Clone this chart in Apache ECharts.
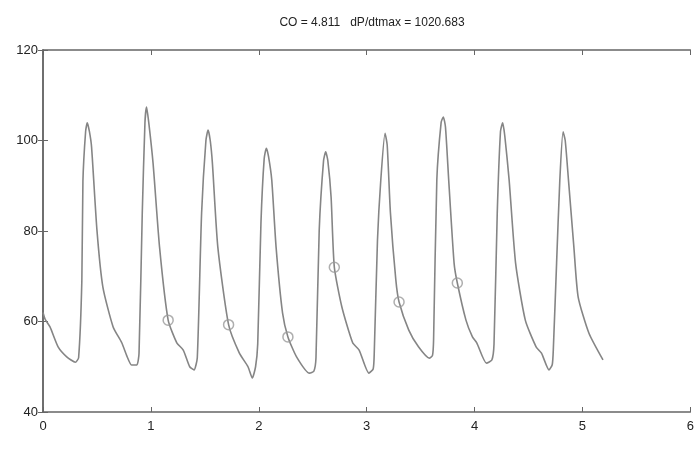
<!DOCTYPE html>
<html>
<head>
<meta charset="utf-8">
<script src="https://cdn.jsdelivr.net/npm/echarts@6/dist/echarts.min.js"></script>
<style>
  html, body { margin: 0; padding: 0; background: #fff; }
  #chart { width: 697px; height: 452px; }
</style>
</head>
<body>
<div id="chart"></div>
<script>
// pressure trace (time in s, pressure in mmHg)
const times = [0, 0.02, 0.065, 0.14, 0.22, 0.30, 0.33, 0.36, 0.37, 0.395, 0.41, 0.43, 0.45, 0.50, 0.555, 0.65, 0.73, 0.78, 0.82, 0.87,
  0.89, 0.92, 0.945, 0.96, 0.98, 1.02, 1.08, 1.16, 1.24, 1.30, 1.36, 1.40, 1.43, 1.47, 1.51, 1.53, 1.55, 1.57, 1.62, 1.72,
  1.82, 1.90, 1.94, 1.97, 1.99, 2.02, 2.05, 2.07, 2.09, 2.12, 2.16, 2.22, 2.27, 2.35, 2.47, 2.51, 2.53, 2.56, 2.60, 2.62,
  2.64, 2.67, 2.70, 2.77, 2.87, 2.93, 3.02, 3.06, 3.07, 3.10, 3.13, 3.17, 3.19, 3.22, 3.27, 3.30, 3.39, 3.48, 3.58, 3.61,
  3.62, 3.65, 3.69, 3.71, 3.73, 3.76, 3.81, 3.84, 3.92, 3.98, 4.02, 4.11, 4.16, 4.18, 4.21, 4.24, 4.26, 4.28, 4.32, 4.38,
  4.47, 4.57, 4.62, 4.69, 4.72, 4.73, 4.76, 4.79, 4.82, 4.84, 4.87, 4.92, 4.96, 5.06, 5.19]
const pressure = [62, 60.5, 58.8, 54.4, 52.2, 51.0, 52, 69, 91, 102, 103.9, 102, 98.6, 80.2, 67.6, 58.8, 55.3, 52.2, 50.4, 50.4,
  53, 84, 104, 107.4, 104, 95, 76.5, 60.3, 55.3, 53.7, 50, 49.3, 52, 84, 100, 102.3, 100, 95, 76.5, 59.3,
  53, 50, 47.5, 50, 55, 81.8, 96, 98.3, 96.5, 91.3, 76.5, 61.9, 56.6, 52.2, 48.6, 49, 52, 80.2, 95.5, 97.5,
  95.5, 87.5, 72, 63.2, 55.3, 53.7, 48.6, 49.5, 53, 78, 91, 101.6, 99, 84, 69.2, 64.3, 58.1, 54.4, 51.9, 52.5,
  56, 91.3, 104, 105.2, 103, 91.3, 72.9, 68.5, 60.3, 56.6, 55.3, 50.8, 51.5, 55, 84, 102, 103.9, 101, 91.3, 72.9,
  60.3, 54.4, 53, 49.3, 50.5, 54, 72.9, 91.3, 101.9, 100, 91.3, 76.5, 65.4, 57.4, 51.5]

// circled points (dicrotic notch marks)
const markTimes = [1.16, 1.72, 2.27, 2.70, 3.30, 3.84]
const markValues = [60.3, 59.3, 56.6, 72, 64.3, 68.5]

const xTicks = [0, 1, 2, 3, 4, 5, 6]
const yTicks = [40, 60, 80, 100, 120]

const titleText = 'CO = 4.811   dP/dtmax = 1020.683'

const traceData = times.map((t, i) => [t, pressure[i]])
const markData = markTimes.map((t, i) => [t, markValues[i]])

const axisColor = '#666'
const labelStyle = { color: '#222', fontSize: 13, fontFamily: 'Liberation Sans' }

const chart = echarts.init(document.getElementById('chart'), null, { renderer: 'canvas' })
chart.setOption({
  animation: false,
  backgroundColor: '#fff',
  title: {
    text: titleText,
    left: 367,
    top: 12,
    textAlign: 'center',
    textStyle: { color: '#222', fontSize: 12, fontWeight: 'normal', fontFamily: 'Liberation Sans' }
  },
  grid: { left: 43, right: 5, top: 50, bottom: 40 },
  xAxis: [
    {
      type: 'value', min: xTicks[0], max: xTicks[xTicks.length - 1], interval: 1,
      axisLine: { lineStyle: { color: axisColor, width: 1.5 } },
      axisTick: { inside: true, length: 5, lineStyle: { color: axisColor } },
      axisLabel: Object.assign({ margin: 8 }, labelStyle),
      splitLine: { show: false }
    },
    {
      type: 'value', position: 'top', min: xTicks[0], max: xTicks[xTicks.length - 1], interval: 1,
      axisLine: { show: true, lineStyle: { color: axisColor, width: 1.5 } },
      axisTick: { inside: true, length: 5, lineStyle: { color: axisColor } },
      axisLabel: { show: false },
      splitLine: { show: false }
    }
  ],
  yAxis: [
    {
      type: 'value', min: yTicks[0], max: yTicks[yTicks.length - 1], interval: 20,
      axisLine: { show: true, lineStyle: { color: axisColor, width: 1.5 } },
      axisTick: { show: true, inside: true, length: 5, lineStyle: { color: axisColor } },
      axisLabel: Object.assign({ margin: 5 }, labelStyle),
      splitLine: { show: false }
    },
    {
      type: 'value', position: 'right', min: yTicks[0], max: yTicks[yTicks.length - 1], interval: 20,
      axisLine: { show: true, lineStyle: { color: axisColor, width: 1.5 } },
      axisTick: { show: true, inside: true, length: 5, lineStyle: { color: axisColor } },
      axisLabel: { show: false },
      splitLine: { show: false }
    }
  ],
  series: [
    {
      type: 'line',
      data: traceData,
      showSymbol: false,
      smooth: 0.2,
      lineStyle: { color: '#858585', width: 1.6 },
      z: 2
    },
    {
      type: 'scatter',
      data: markData,
      symbol: 'circle',
      symbolSize: 10,
      itemStyle: { color: 'rgba(255,255,255,0)', borderColor: '#9a9a9a', borderWidth: 1.5 },
      z: 3
    }
  ]
})
</script>
</body>
</html>
